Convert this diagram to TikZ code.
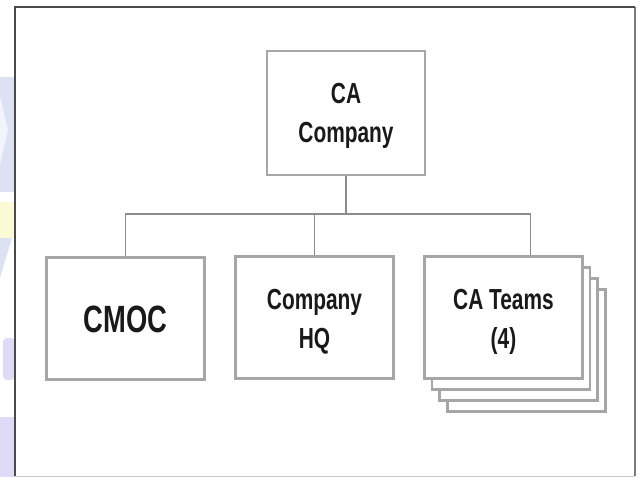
\documentclass[tikz,border=0pt]{standalone}
\usepackage{fontspec}
\setmainfont{Liberation Sans}[FakeStretch=0.72]
\definecolor{boxgray}{HTML}{A6A6A6}
\definecolor{linegray}{HTML}{8C8C8C}
\definecolor{framedark}{HTML}{4A4A4A}
\definecolor{frameright}{HTML}{7A7A7A}
\definecolor{framelight}{HTML}{C8C8C8}
\definecolor{wmblue}{HTML}{DCE2F4}
\definecolor{wmyellow}{HTML}{FCFAD6}
\definecolor{wmlav}{HTML}{DFDAF6}
\begin{document}
\begin{tikzpicture}[x=1pt,y=-1pt,
  box/.style={draw=boxgray, line width=2.2pt, fill=white, inner sep=0pt,
    minimum width=158pt, minimum height=122pt},
  txt/.style={inner sep=0pt, align=center, text=black!90,
    font=\bfseries\fontsize{29}{39}\selectfont},
  link/.style={draw=linegray, line width=1.4pt}]
\useasboundingbox (0,0) rectangle (640,477);
% watermark strip on the left
\fill[wmblue] (0,77) rectangle (15,192);
\fill[white!60!wmblue] (0,96) -- (8,130) -- (0,165) -- cycle;
\fill[wmyellow] (0,202) rectangle (15,238);
\fill[wmblue] (0,238) -- (12,238) -- (0,278) -- cycle;
\fill[wmlav, rounded corners=4pt] (3,338) rectangle (15,380);
\fill[wmlav] (0,417) rectangle (15,477);
% frame
\fill[white] (15,7) rectangle (635,476);
\draw[framelight, line width=1pt] (15,476) -- (635,476);
\draw[frameright, line width=1.6pt] (635,7) -- (635,476);
\draw[framedark, line width=1.8pt] (15,476) -- (15,7) -- (635,7);
% boxes
\node[box, minimum height=124pt] (top) at (346,113) {};
\node[box] (cmoc) at (125.5,318.5) {};
\node[box] (hq) at (314.5,317.5) {};
\node[box] (teamsc) at (526.5,350.5) {};
\node[box] (teamsb) at (518.5,339.5) {};
\node[box] (teamsa) at (511,328.5) {};
\node[box] (teams) at (503.5,317.5) {};
% texts
\node[txt] (toptext) at ([yshift=-3pt]top.center) {CA\\Company};
\node[txt, font=\bfseries\fontsize{38}{40}\selectfont] (cmoctext) at ([yshift=-1pt]cmoc.center) {CMOC};
\node[txt] (hqtext) at ([yshift=-4pt]hq.center) {Company\\HQ};
\node[txt] (teamstext) at ([yshift=-4pt]teams.center) {CA Teams\\(4)};
% connectors
\coordinate (bus) at (345,214);
\coordinate (tjoin) at ([xshift=27pt]teams.north);
\draw[link] (top.south) -- (top.south |- bus);
\draw[link] (cmoc.north) |- (tjoin |- bus) -- (tjoin);
\draw[link] (hq.north) -- (hq.north |- bus);
\end{tikzpicture}
\end{document}
